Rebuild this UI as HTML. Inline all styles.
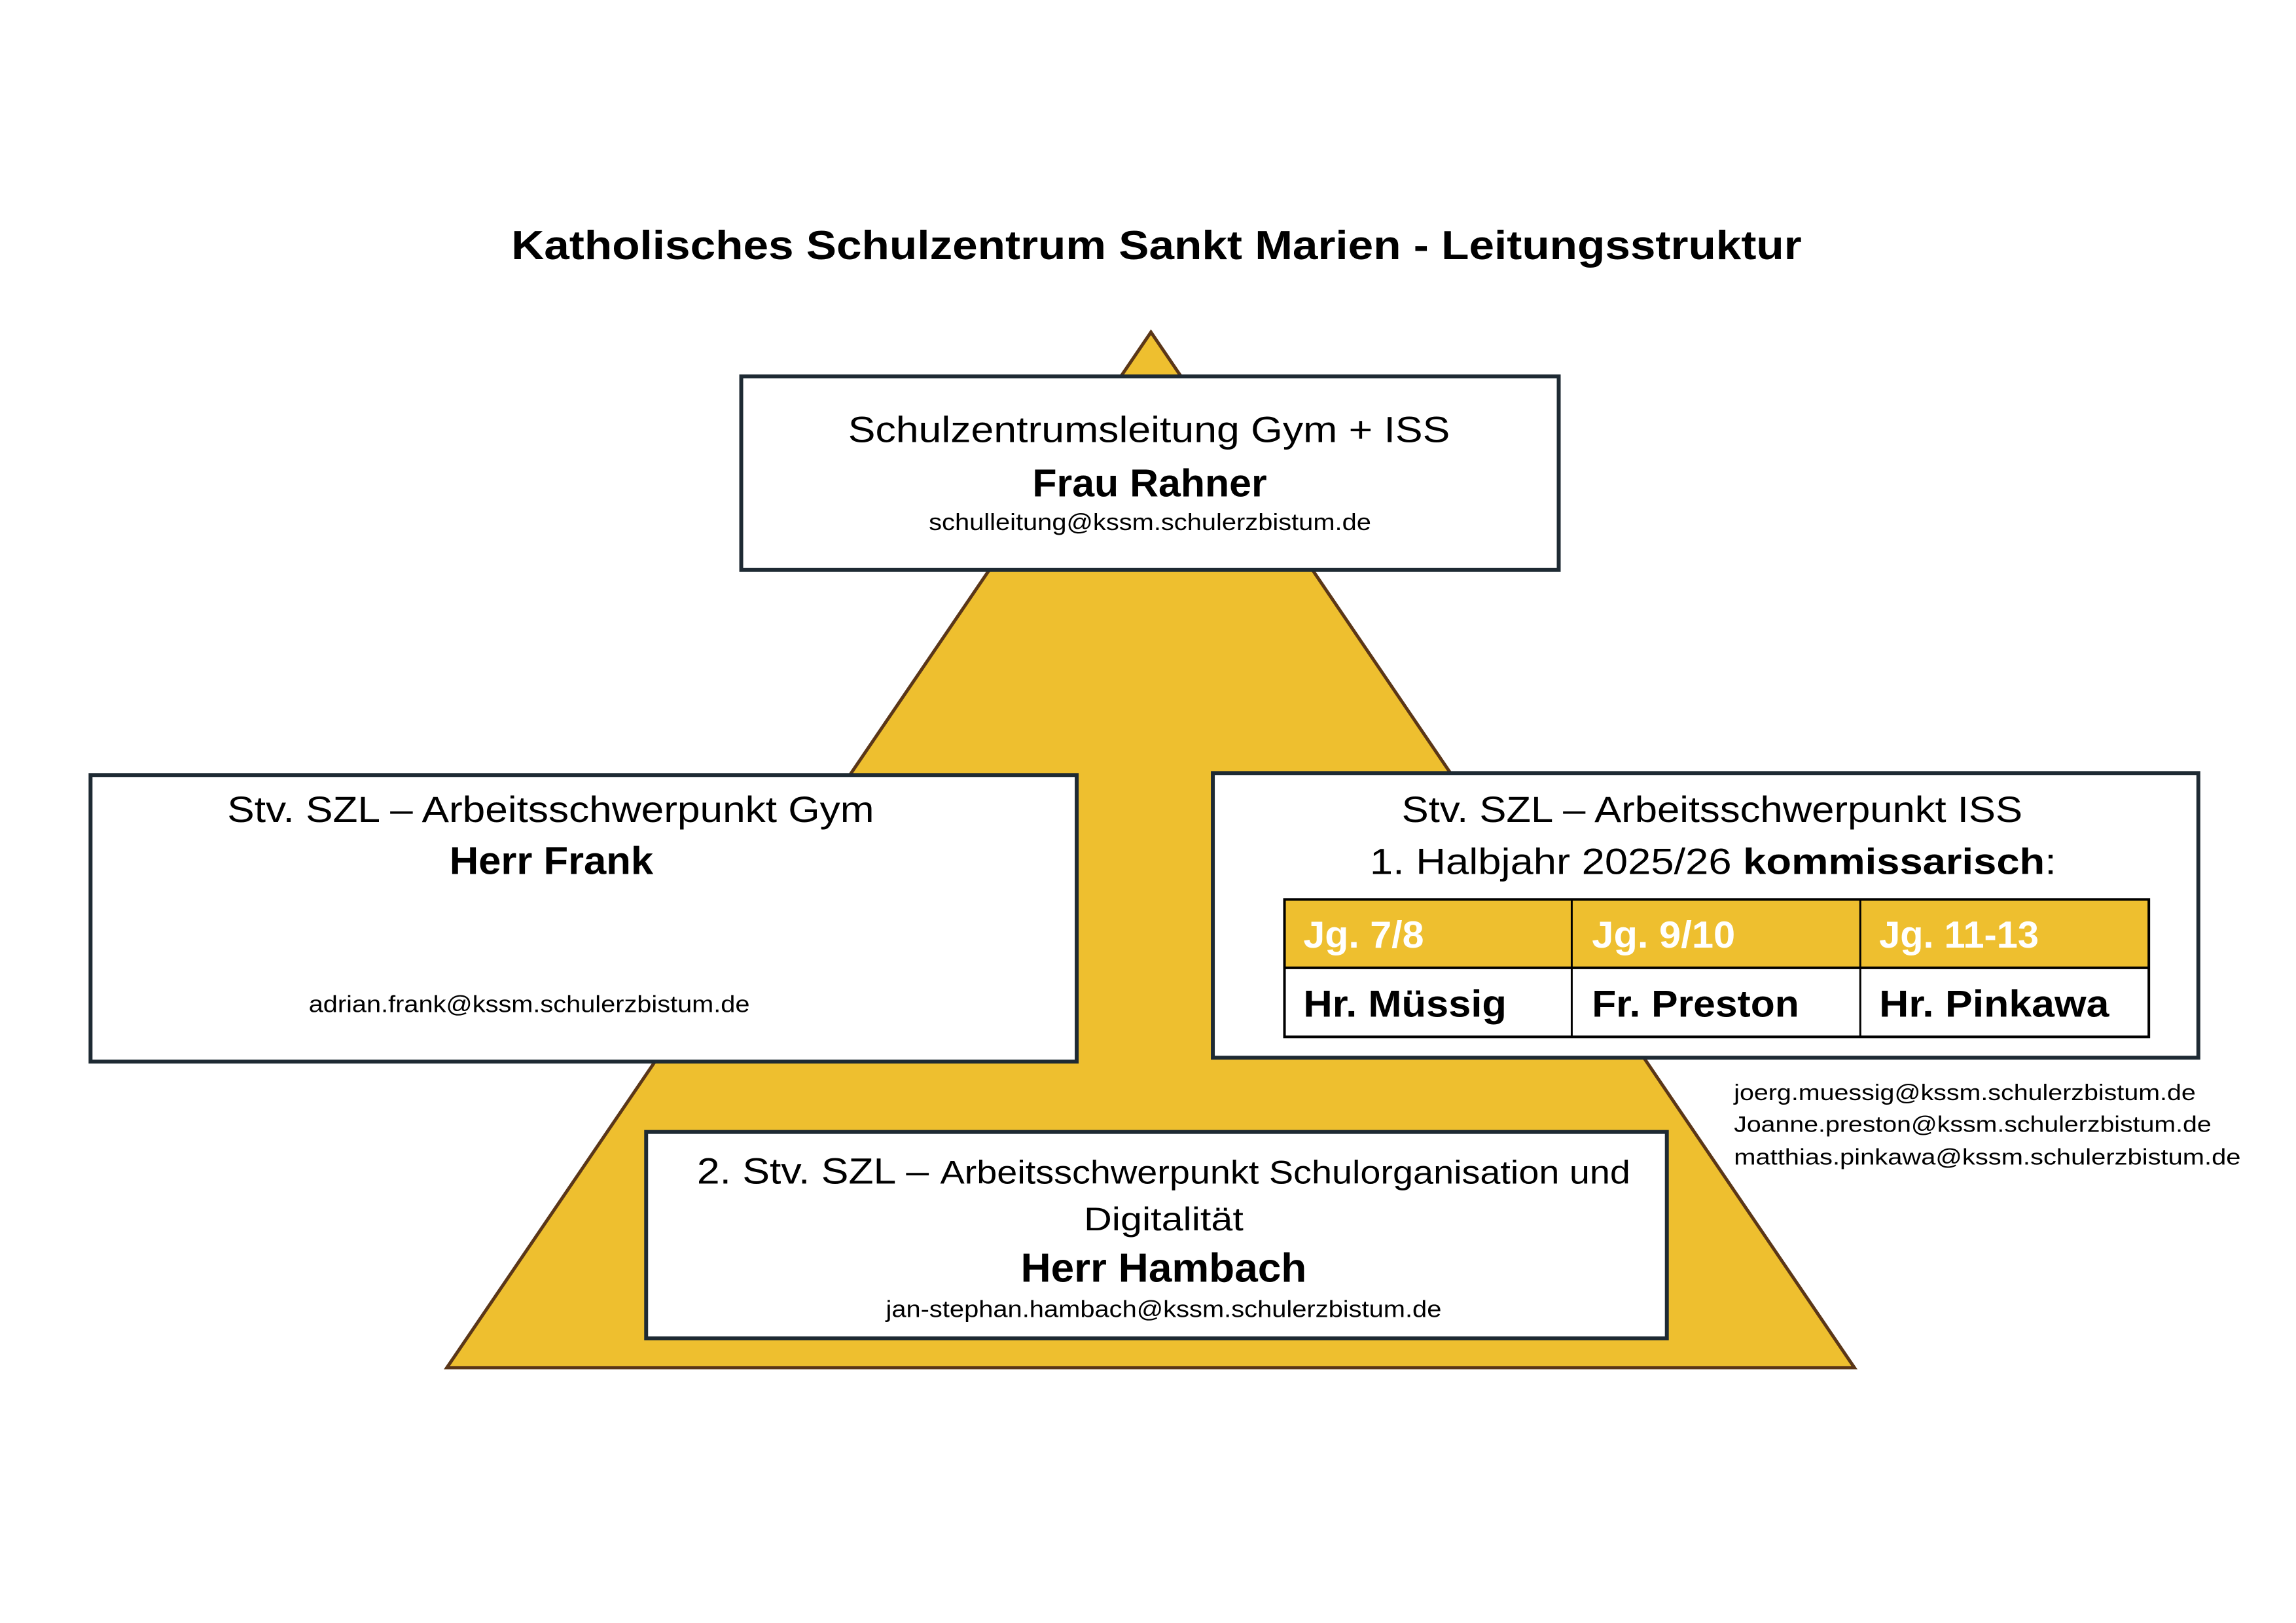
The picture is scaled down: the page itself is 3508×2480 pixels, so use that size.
<!DOCTYPE html>
<html><head><meta charset="utf-8"><style>
html,body{margin:0;padding:0;background:#fff;}
svg{display:block;}
text{font-family:"Liberation Sans",sans-serif;fill:#000;}
.b{font-weight:bold;}
</style></head><body>
<svg width="3508" height="2480" viewBox="0 0 3508 2480" xmlns="http://www.w3.org/2000/svg">
<rect width="3508" height="2480" fill="#fff"/>
<g transform="scale(0.9952)">
<text x="785" y="398" font-size="62" class="b" textLength="1981" lengthAdjust="spacingAndGlyphs">Katholisches Schulzentrum Sankt Marien - Leitungsstruktur</text>
<polygon points="1767,510 686,2100 2847,2100" fill="#EEBF2F" stroke="#5a3618" stroke-width="5"/>
<rect x="1138" y="578" width="1255" height="297" fill="#fff" stroke="#1e2a33" stroke-width="6"/>
<text x="1302" y="679" font-size="56" textLength="924" lengthAdjust="spacingAndGlyphs">Schulzentrumsleitung Gym + ISS</text>
<text x="1585" y="762" font-size="60" class="b" textLength="360" lengthAdjust="spacingAndGlyphs">Frau Rahner</text>
<text x="1426" y="814" font-size="36" textLength="679" lengthAdjust="spacingAndGlyphs">schulleitung@kssm.schulerzbistum.de</text>
<rect x="139" y="1190" width="1514" height="440" fill="#fff" stroke="#1e2a33" stroke-width="6"/>
<text x="349" y="1262" font-size="56" textLength="993" lengthAdjust="spacingAndGlyphs">Stv. SZL – Arbeitsschwerpunkt Gym</text>
<text x="690" y="1342" font-size="60" class="b" textLength="313" lengthAdjust="spacingAndGlyphs">Herr Frank</text>
<text x="474" y="1554" font-size="36" textLength="677" lengthAdjust="spacingAndGlyphs">adrian.frank@kssm.schulerzbistum.de</text>
<rect x="1862" y="1187" width="1513" height="437" fill="#fff" stroke="#1e2a33" stroke-width="6"/>
<text x="2152" y="1262" font-size="56" textLength="953" lengthAdjust="spacingAndGlyphs">Stv. SZL – Arbeitsschwerpunkt ISS</text>
<text x="2103" y="1342" font-size="56" textLength="1054" lengthAdjust="spacingAndGlyphs">1. Halbjahr 2025/26 <tspan class="b">kommissarisch</tspan>:</text>
<rect x="1972" y="1381" width="1327" height="105" fill="#EEBF2F"/>
<rect x="1972" y="1381" width="1327" height="211" fill="none" stroke="#000" stroke-width="4"/>
<line x1="1972" y1="1486" x2="3299" y2="1486" stroke="#000" stroke-width="4"/>
<line x1="2413" y1="1381" x2="2413" y2="1592" stroke="#000" stroke-width="3"/>
<line x1="2856" y1="1381" x2="2856" y2="1592" stroke="#000" stroke-width="3"/>
<text x="2001" y="1455" font-size="58" class="b" style="fill:#fff" textLength="185" lengthAdjust="spacingAndGlyphs">Jg. 7/8</text>
<text x="2444" y="1455" font-size="58" class="b" style="fill:#fff" textLength="220" lengthAdjust="spacingAndGlyphs">Jg. 9/10</text>
<text x="2885" y="1455" font-size="58" class="b" style="fill:#fff" textLength="245" lengthAdjust="spacingAndGlyphs">Jg. 11-13</text>
<text x="2001" y="1561" font-size="58" class="b" textLength="312" lengthAdjust="spacingAndGlyphs">Hr. Müssig</text>
<text x="2444" y="1561" font-size="58" class="b" textLength="318" lengthAdjust="spacingAndGlyphs">Fr. Preston</text>
<text x="2885" y="1561" font-size="58" class="b" textLength="353" lengthAdjust="spacingAndGlyphs">Hr. Pinkawa</text>
<text x="2662" y="1689" font-size="34" textLength="709" lengthAdjust="spacingAndGlyphs">joerg.muessig@kssm.schulerzbistum.de</text>
<text x="2662" y="1738" font-size="34" textLength="733" lengthAdjust="spacingAndGlyphs">Joanne.preston@kssm.schulerzbistum.de</text>
<text x="2662" y="1788" font-size="34" textLength="778" lengthAdjust="spacingAndGlyphs">matthias.pinkawa@kssm.schulerzbistum.de</text>
<rect x="992" y="1738" width="1567" height="317" fill="#fff" stroke="#1e2a33" stroke-width="6"/>
<text x="1070" y="1817" font-size="56" textLength="1433" lengthAdjust="spacingAndGlyphs">2. Stv. SZL – <tspan font-size="50">Arbeitsschwerpunkt Schulorganisation und</tspan></text>
<text x="1664" y="1889" font-size="50" textLength="245" lengthAdjust="spacingAndGlyphs">Digitalität</text>
<text x="1567" y="1968" font-size="62" class="b" textLength="439" lengthAdjust="spacingAndGlyphs">Herr Hambach</text>
<text x="1360" y="2022" font-size="36" textLength="853" lengthAdjust="spacingAndGlyphs">jan-stephan.hambach@kssm.schulerzbistum.de</text>
</g>
</svg>
</body></html>
